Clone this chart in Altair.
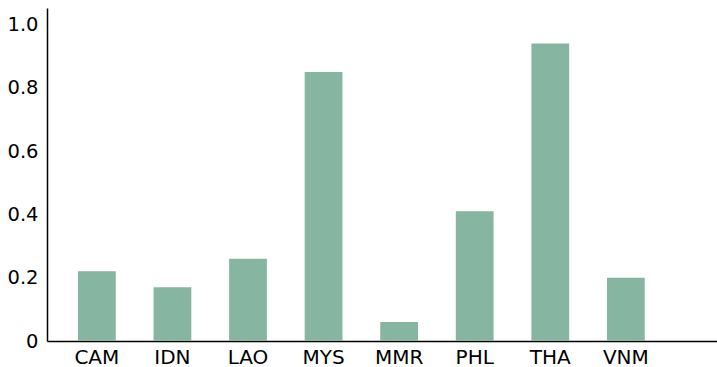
import altair as alt
import pandas as pd

countries = ["CAM", "IDN", "LAO", "MYS", "MMR", "PHL", "THA", "VNM"]
values = [0.22, 0.17, 0.26, 0.85, 0.06, 0.41, 0.94, 0.20]

df = pd.DataFrame({"country": countries, "value": values})

chart = alt.Chart(df).mark_bar(color="#86b5a1").encode(
    x=alt.X("country:N", sort=countries, title=None,
            scale=alt.Scale(paddingInner=0.5, paddingOuter=0.683, align=0.30),
            axis=alt.Axis(labelAngle=0, ticks=False, domainColor="black", domainWidth=1.5,
                          labelFontSize=20, labelFont="DejaVu Sans", labelColor="black",
                          labelPadding=6, grid=False)),
    y=alt.Y("value:Q", title=None,
            scale=alt.Scale(domain=[0, 1.052], nice=False),
            axis=alt.Axis(values=[0, 0.2, 0.4, 0.6, 0.8, 1.0], ticks=False, grid=False,
                          labelExpr="datum.value == 0 ? '0' : format(datum.value, '.1f')",
                          domainColor="black", domainWidth=1.5,
                          labelFontSize=19.5, labelFont="DejaVu Sans", labelColor="black",
                          labelPadding=9)),
).properties(
    width=670, height=333,
    autosize=alt.AutoSizeParams(type="none"),
    padding={"left": 47, "top": 8, "right": 0, "bottom": 26},
).configure_view(stroke=None)

chart.save("out.html", embed_options={"renderer": "svg", "actions": False})
